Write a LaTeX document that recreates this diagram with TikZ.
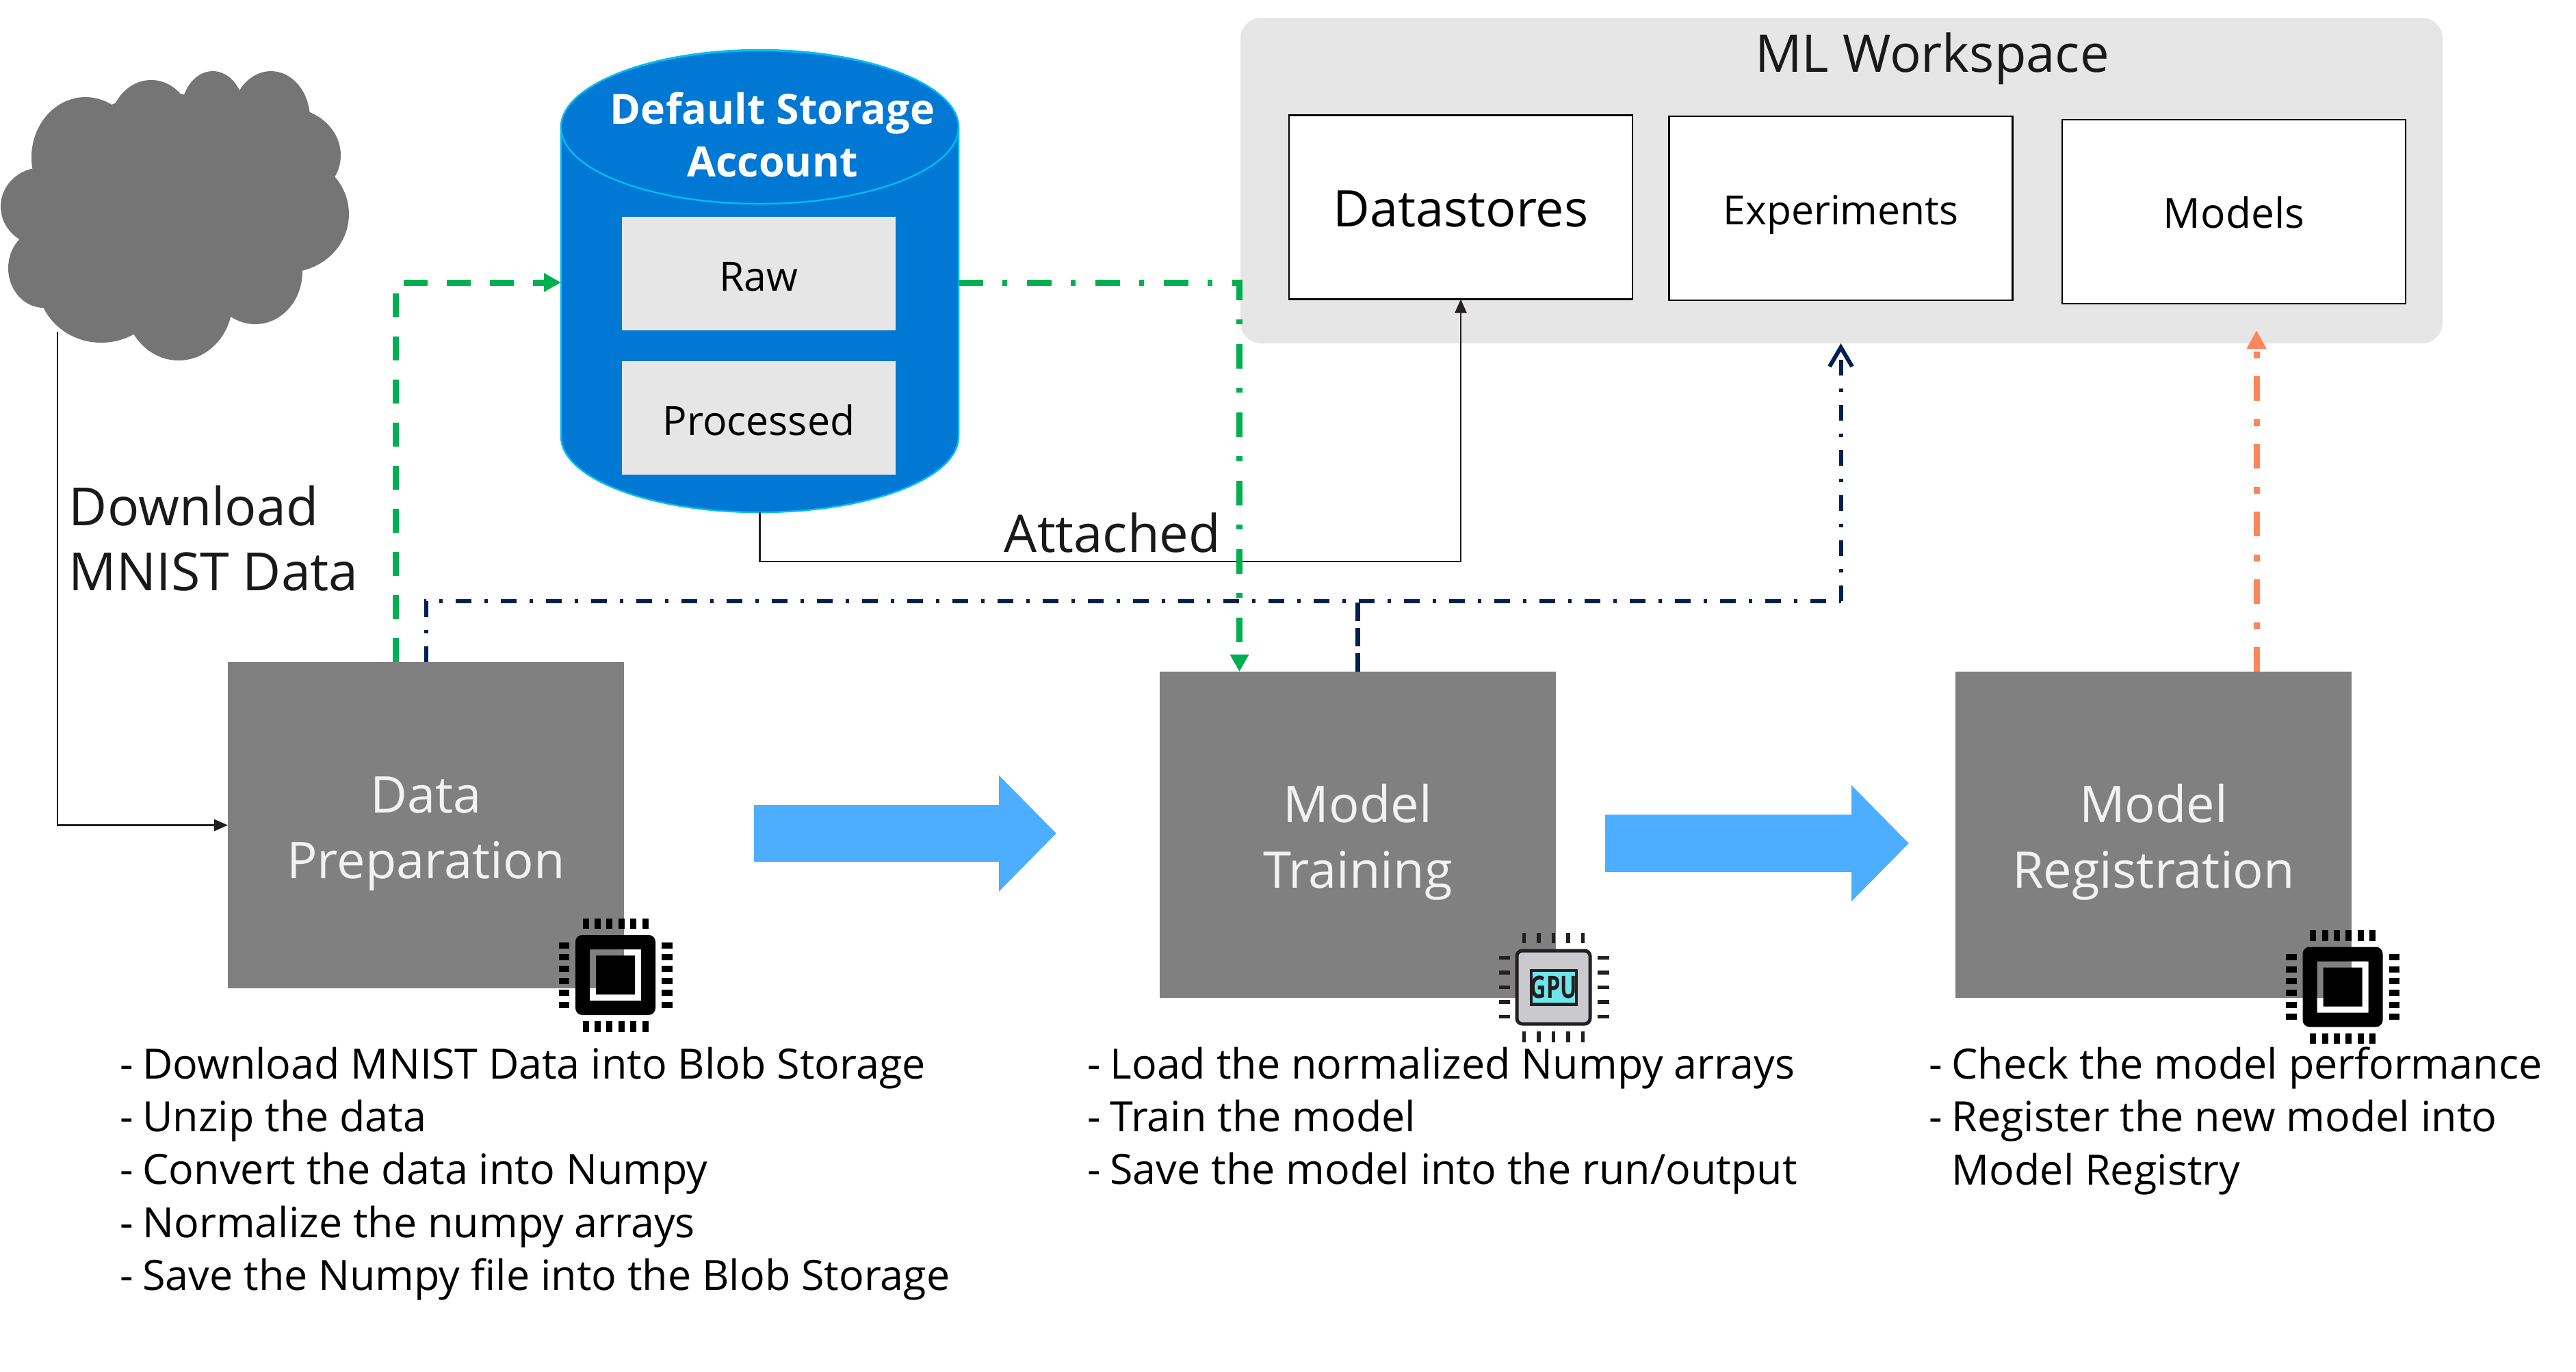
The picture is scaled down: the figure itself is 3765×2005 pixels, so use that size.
\documentclass[tikz,border=0pt]{standalone}
\usepackage{fontspec}
\setmainfont{Open Sans}
\usetikzlibrary{arrows.meta, positioning}
\definecolor{clrBox}{HTML}{808080}
\definecolor{clrCloud}{HTML}{757575}
\definecolor{clrWs}{HTML}{E6E6E6}
\definecolor{clrDisk}{HTML}{0078D4}
\definecolor{clrDiskBd}{HTML}{00BCF2}
\definecolor{clrGreen}{HTML}{00B050}
\definecolor{clrNavy}{HTML}{002050}
\definecolor{clrOrange}{HTML}{FF855A}
\definecolor{clrBlue}{HTML}{4DAEFF}
\definecolor{clrChip}{HTML}{CAC9CE}
\definecolor{clrScreen}{HTML}{6EE6EC}
\definecolor{clrInk}{HTML}{231F20}
\newcommand{\itm}{\makebox[6.7pt][l]{-}}
\newcommand{\noitm}{\makebox[6.7pt][l]{}}
\newcommand{\cpuicon}[2]{%
  \begin{scope}[shift={(#1,#2)}]
    \fill[even odd rule] [rounded corners=2pt] (-58.5,-58.5) rectangle (58.5,58.5)
      [sharp corners] (-37.5,-37.5) rectangle (37.5,37.5) (-28.5,-28.5) rectangle (28.5,28.5);
    \foreach \p in {-43.5,-26,-8.7,8.7,26,43.5} {
      \fill (\p-4.5,-83) rectangle (\p+4.5,-67.5);
      \fill (\p-4.5,67.5) rectangle (\p+4.5,83);
      \fill (-83,\p-4.5) rectangle (-67.5,\p+4.5);
      \fill (67.5,\p-4.5) rectangle (83,\p+4.5);
    }
  \end{scope}}
\begin{document}
\begin{tikzpicture}[
  x=0.2pt, y=-0.2pt,
  stage/.style = {
    rectangle, fill=clrBox, text=white!95!black, inner sep=0pt, outer sep=0pt,
    minimum width=115.8pt, minimum height=95.4pt, align=center,
    text height=31pt, text depth=0pt,
    font=\fontsize{14.8}{19.2}\selectfont
  },
  wsbox/.style = {
    rectangle, draw=black, line width=0.5pt, fill=white, inner sep=0pt, outer sep=0pt,
    minimum width=100.4pt, minimum height=53.8pt, text height=9.4pt, text depth=0pt
  },
  folder/.style = {
    rectangle, fill=clrWs, inner sep=0pt, outer sep=0pt,
    minimum width=80pt, minimum height=33.2pt, text height=10pt, text depth=0pt,
    font=\fontsize{11.8}{14}\selectfont
  },
  steps/.style = {
    anchor=north west, inner sep=0pt, align=left,
    font=\fontsize{12.2}{15.45}\selectfont
  },
  lbl/.style = {inner sep=0pt, align=left, text=black!90, font=\fontsize{15.4}{19}\selectfont},
  thin arr/.style = {-{Triangle[length=4pt,width=3.4pt]}, line width=0.55pt, color=clrInk},
  grnline/.style = {-{Triangle[length=5pt,width=5.2pt]}, line width=1.8pt, color=clrGreen,
    dash pattern=on 7.2pt off 5.6pt on 1.4pt off 5.8pt},
  grndash/.style = {-{Triangle[length=5pt,width=5.2pt]}, line width=1.8pt, color=clrGreen,
    dash pattern=on 7pt off 5.6pt},
  navyline/.style = {line width=1.2pt, color=clrNavy,
    dash pattern=on 4.6pt off 3.9pt on 0.9pt off 3.8pt},
  orgline/.style = {-{Triangle[length=5.4pt,width=5.5pt]}, line width=1.8pt, color=clrOrange,
    dash pattern=on 7.2pt off 5.2pt on 2pt off 5.4pt},
  bigarr/.style = {-{Triangle[length=16.8pt,width=33pt]}, line width=16.7pt, color=clrBlue}
]
  \useasboundingbox (0,0) rectangle (3765,2005);

  % cloud
  \fill[clrCloud] (250,297) ellipse [x radius=200, y radius=160]
    (125,230) ellipse [x radius=79, y radius=88]
    (221,187) ellipse [x radius=61, y radius=70]
    (311,163) ellipse [x radius=46, y radius=59]
    (396,173) ellipse [x radius=57, y radius=69]
    (418,227) ellipse [x radius=80, y radius=70]
    (421,313) ellipse [x radius=89, y radius=85]
    (373,397) ellipse [x radius=69, y radius=77]
    (261,440) ellipse [x radius=79, y radius=87]
    (148,413) ellipse [x radius=93, y radius=88]
    (64,392) ellipse [x radius=52, y radius=58]
    (61,302) ellipse [x radius=60, y radius=57];
  \coordinate (cloudout) at (84,485);

  % workspace
  \node[rectangle, rounded corners=6pt, fill=clrWs, inner sep=0pt, outer sep=0pt, minimum width=351.4pt, minimum height=95.2pt] (ws) at (2691.5,264) {};
  \node[font=\fontsize{15.2}{19}\selectfont, text=black!90, inner sep=0pt] (wstitle) at (2824,86) {ML Workspace};
  \node[wsbox, text height=11.5pt, font=\fontsize{14.75}{19}\selectfont] (dstore) at (2135,303) {Datastores};
  \node[wsbox, font=\fontsize{11.75}{15}\selectfont] (expt) at (2690.5,304.5) {Experiments};
  \node[wsbox, font=\fontsize{12.1}{15}\selectfont] (models) at (3265,309.5) {Models};

  % storage
  \node[rectangle, inner sep=0pt, outer sep=0pt, minimum width=116.2pt, minimum height=135.2pt] (store) at (1110.5,411) {};
  \draw[draw=clrDiskBd, line width=0.5pt, fill=clrDisk] (820,188) -- (820,638)
    arc [start angle=180, end angle=0, x radius=290.5, y radius=111] -- (1401,188)
    arc [start angle=0, end angle=-180, x radius=290.5, y radius=115] -- cycle;
  \draw[draw=clrDiskBd, line width=0.5pt, fill=clrDisk] (1110.5,186) ellipse [x radius=290.5, y radius=112];
  \node[text=white, align=center, inner sep=0pt, font=\fontsize{12.2}{15.4}\bfseries\selectfont] (storetitle) at (1129,197) {Default Storage\\Account};
  \node[folder] (raw) at (1109,400) {Raw};
  \node[folder, below=9pt of raw] (proc) {Processed};

  % stages
  \node[stage] (prep) at (622.5,1206.5) {Data\\Preparation};
  \node[stage, right=156.6pt of prep, yshift=-2.8pt] (train) {Model\\Training};
  \node[stage, right=116.8pt of train] (reg) {Model\\Registration};

  % chips
  \cpuicon{899.5}{1425.5}
  \cpuicon{3424}{1443}
  \begin{scope}[shift={(2270.5,1443.5)}]
    \draw[clrInk, fill=clrChip, line width=1pt, rounded corners=1.6pt] (-53.5,-53.5) rectangle (53.5,53.5);
    \draw[clrInk, fill=clrScreen, line width=0.9pt] (-32.5,-24.5) rectangle (33.5,25);
    \node[inner sep=0pt, text=clrInk, font=\fontsize{9}{9}\bfseries\selectfont] (gpu) at (0.5,0) {\scalebox{0.72}[1]{GPU}};
    \foreach \p in {-43,-21.5,0,21.5,43} {
      \fill[clrInk] (\p-2.8,-79.5) rectangle (\p+2.8,-64.5);
      \fill[clrInk] (\p-2.8,64.5) rectangle (\p+2.8,80.5);
      \fill[clrInk] (-79.5,\p-2.8) rectangle (-63.5,\p+2.8);
      \fill[clrInk] (64.5,\p-2.8) rectangle (81.5,\p+2.8);
    }
  \end{scope}

  % step lists
  \node[steps] (preplist) at (174,1530) {\itm Download MNIST Data into Blob Storage\\\itm Unzip the data\\\itm Convert the data into Numpy\\\itm Normalize the numpy arrays\\\itm Save the Numpy file into the Blob Storage};
  \node[steps] (trainlist) at (1588,1530) {\itm Load the normalized Numpy arrays\\\itm Train the model\\\itm Save the model into the run/output};
  \node[steps] (reglist) at (2818,1530) {\itm Check the model performance\\\itm Register the new model into\\\noitm Model Registry};

  % labels
  \node[lbl, anchor=west] (dl) at (100,787) {Download\\MNIST Data};
  \node[lbl, anchor=base east, font=\fontsize{15.2}{19}\selectfont] (att) at (1785,807) {Attached};

  % connectors
  \draw[thin arr] (cloudout) |- (prep.west);
  \draw[thin arr] (store.south) -- (1110.5,821) -| (dstore.south);
  \draw[grndash] ([xshift=-8.9pt]prep.north) |- ([yshift=-0.4pt]store.west);
  \draw[grnline] ([yshift=-0.4pt]store.east) -| ([xshift=-34.6pt]train.north);
  \coordinate (busy) at (train.north |- 0,879);
  \coordinate (wsin) at (expt.south |- ws.south);
  \draw[navyline] (prep.north) |- (busy) -- (busy -| wsin);
  \draw[navyline, -{Straight Barb[length=5.6pt,width=6.6pt]}] (busy -| wsin) -- (wsin);
  \draw[line width=1.4pt, color=clrNavy, dash pattern=on 5.4pt off 2pt] (train.north) -- (busy);
  \coordinate (regout) at ([xshift=30.1pt]reg.north);
  \draw[orgline] (regout) -- (regout |- 0,483);
  \coordinate (flow1s) at (1102,1218.5);
  \coordinate (flow1e) at (1544,1218.5);
  \coordinate (flow2s) at (2346,1233);
  \coordinate (flow2e) at (2790,1233);
  \draw[bigarr] (flow1s) -- (flow1e);
  \draw[bigarr] (flow2s) -- (flow2e);
\end{tikzpicture}
\end{document}
